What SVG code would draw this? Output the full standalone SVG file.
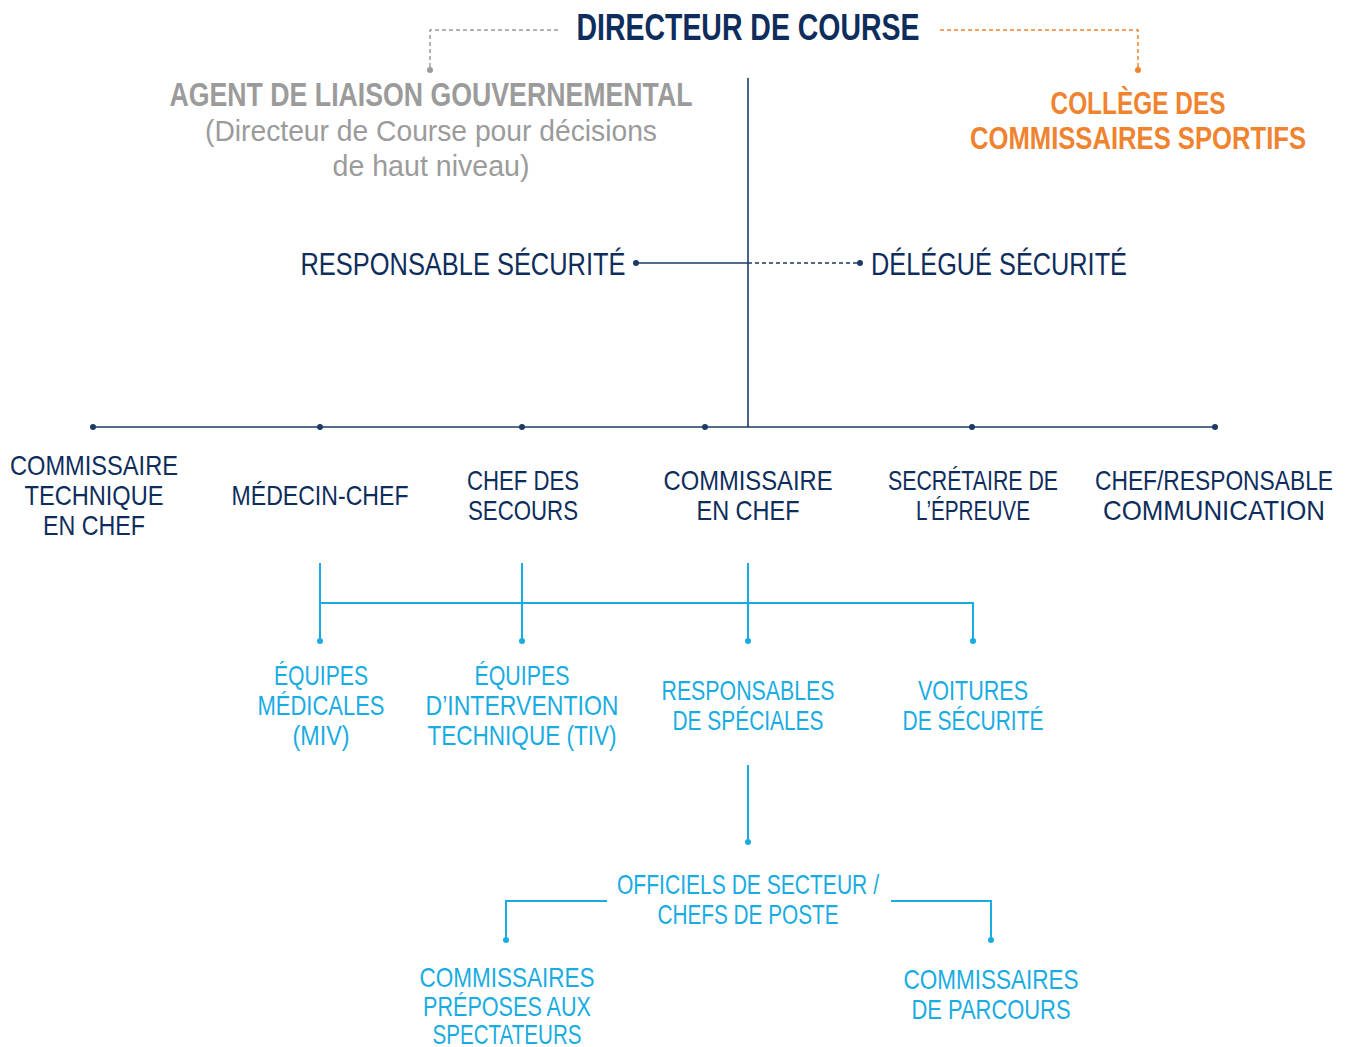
<svg xmlns="http://www.w3.org/2000/svg" width="1354" height="1047" viewBox="0 0 1354 1047">
<style>
text{font-family:"Liberation Sans",Arial,sans-serif;text-anchor:middle}
.t{fill:#0e2d5c;font-weight:bold;font-size:36px}
.g{fill:#9b9b9b;font-weight:bold;font-size:33px}
.gl{fill:#9b9b9b;font-size:30px}
.o{fill:#f0832f;font-weight:bold;font-size:31px}
.n{fill:#0e2d5c;font-size:32px}
.l{fill:#0e2d5c;font-size:28px}
.c{fill:#19ace2;font-size:28px}
.ln{stroke:#1c3a66;stroke-width:1.6;fill:none}
.lc{stroke:#19ace2;stroke-width:2;fill:none}
.dg{stroke:#9b9b9b;stroke-width:1.5;stroke-dasharray:4 3;fill:none}
.do{stroke:#f0832f;stroke-width:1.5;stroke-dasharray:4 3;fill:none}
.dn{stroke:#1c3a66;stroke-width:1.6;stroke-dasharray:4 3;fill:none}
</style>
<g id="connectors">
<path class="dg" d="M558,30 H430 V68"/>
<circle cx="430" cy="70" r="3" fill="#9b9b9b"/>
<path class="do" d="M940,30 H1138 V68"/>
<circle cx="1138" cy="70" r="3" fill="#f0832f"/>
<path class="ln" d="M748,78 V427"/>
<path class="ln" d="M636,263 H748"/>
<path class="dn" d="M748,263 H860"/>
<circle cx="636" cy="263" r="3" fill="#1c3a66"/>
<circle cx="860" cy="263" r="3" fill="#1c3a66"/>
<path class="ln" d="M93,427 H1215"/>
<g fill="#1c3a66">
<circle cx="93" cy="427" r="3"/><circle cx="320" cy="427" r="3"/><circle cx="522" cy="427" r="3"/><circle cx="705" cy="427" r="3"/><circle cx="972" cy="427" r="3"/><circle cx="1215" cy="427" r="3"/>
</g>
<path class="lc" d="M320,563 V640 M522,563 V640 M748,563 V640 M320,603 H973 V640 M748,765 V841 M607,901 H506 V939 M891,901 H991 V939"/>
<g fill="#19ace2">
<circle cx="320" cy="641" r="3"/><circle cx="522" cy="641" r="3"/><circle cx="748" cy="641" r="3"/><circle cx="973" cy="641" r="3"/><circle cx="748" cy="842" r="3"/><circle cx="506" cy="940" r="3"/><circle cx="991" cy="940" r="3"/>
</g>
</g>
<g id="directeur"><text class="t" x="748" y="40" textLength="343" lengthAdjust="spacingAndGlyphs">DIRECTEUR DE COURSE</text></g>
<g id="agent">
<text class="g" x="431" y="106" textLength="523" lengthAdjust="spacingAndGlyphs">AGENT DE LIAISON GOUVERNEMENTAL</text>
<text class="gl" x="431" y="141" textLength="452" lengthAdjust="spacingAndGlyphs">(Directeur de Course pour décisions</text>
<text class="gl" x="431" y="176" textLength="197" lengthAdjust="spacingAndGlyphs">de haut niveau)</text>
</g>
<g id="college">
<text class="o" x="1138" y="114" textLength="175" lengthAdjust="spacingAndGlyphs">COLLÈGE DES</text>
<text class="o" x="1138" y="149" textLength="336" lengthAdjust="spacingAndGlyphs">COMMISSAIRES SPORTIFS</text>
</g>
<g id="resp-securite"><text class="n" x="463" y="275" textLength="325" lengthAdjust="spacingAndGlyphs">RESPONSABLE SÉCURITÉ</text></g>
<g id="delegue-securite"><text class="n" x="999" y="275" textLength="256" lengthAdjust="spacingAndGlyphs">DÉLÉGUÉ SÉCURITÉ</text></g>
<g id="commissaire-technique">
<text class="l" x="94" y="475" textLength="168" lengthAdjust="spacingAndGlyphs">COMMISSAIRE</text>
<text class="l" x="94" y="505" textLength="139" lengthAdjust="spacingAndGlyphs">TECHNIQUE</text>
<text class="l" x="94" y="535" textLength="102" lengthAdjust="spacingAndGlyphs">EN CHEF</text>
</g>
<g id="medecin-chef"><text class="l" x="320" y="505" textLength="177" lengthAdjust="spacingAndGlyphs">MÉDECIN-CHEF</text></g>
<g id="chef-secours">
<text class="l" x="523" y="490" textLength="112" lengthAdjust="spacingAndGlyphs">CHEF DES</text>
<text class="l" x="523" y="520" textLength="110" lengthAdjust="spacingAndGlyphs">SECOURS</text>
</g>
<g id="commissaire-chef">
<text class="l" x="748" y="490" textLength="169" lengthAdjust="spacingAndGlyphs">COMMISSAIRE</text>
<text class="l" x="748" y="520" textLength="103" lengthAdjust="spacingAndGlyphs">EN CHEF</text>
</g>
<g id="secretaire">
<text class="l" x="973" y="490" textLength="170" lengthAdjust="spacingAndGlyphs">SECRÉTAIRE DE</text>
<text class="l" x="973" y="520" textLength="114" lengthAdjust="spacingAndGlyphs">L’ÉPREUVE</text>
</g>
<g id="communication">
<text class="l" x="1214" y="490" textLength="238" lengthAdjust="spacingAndGlyphs">CHEF/RESPONSABLE</text>
<text class="l" x="1214" y="520" textLength="222" lengthAdjust="spacingAndGlyphs">COMMUNICATION</text>
</g>
<g id="equipes-medicales">
<text class="c" x="321" y="685" textLength="94" lengthAdjust="spacingAndGlyphs">ÉQUIPES</text>
<text class="c" x="321" y="715" textLength="127" lengthAdjust="spacingAndGlyphs">MÉDICALES</text>
<text class="c" x="321" y="745" textLength="57" lengthAdjust="spacingAndGlyphs">(MIV)</text>
</g>
<g id="equipes-intervention">
<text class="c" x="522" y="685" textLength="95" lengthAdjust="spacingAndGlyphs">ÉQUIPES</text>
<text class="c" x="522" y="715" textLength="193" lengthAdjust="spacingAndGlyphs">D’INTERVENTION</text>
<text class="c" x="522" y="745" textLength="189" lengthAdjust="spacingAndGlyphs">TECHNIQUE (TIV)</text>
</g>
<g id="responsables-speciales">
<text class="c" x="748" y="700" textLength="173" lengthAdjust="spacingAndGlyphs">RESPONSABLES</text>
<text class="c" x="748" y="730" textLength="151" lengthAdjust="spacingAndGlyphs">DE SPÉCIALES</text>
</g>
<g id="voitures-securite">
<text class="c" x="973" y="700" textLength="110" lengthAdjust="spacingAndGlyphs">VOITURES</text>
<text class="c" x="973" y="730" textLength="141" lengthAdjust="spacingAndGlyphs">DE SÉCURITÉ</text>
</g>
<g id="officiels">
<text class="c" x="748" y="894" textLength="262" lengthAdjust="spacingAndGlyphs">OFFICIELS DE SECTEUR /</text>
<text class="c" x="748" y="924" textLength="181" lengthAdjust="spacingAndGlyphs">CHEFS DE POSTE</text>
</g>
<g id="commissaires-spectateurs">
<text class="c" x="507" y="987" textLength="175" lengthAdjust="spacingAndGlyphs">COMMISSAIRES</text>
<text class="c" x="507" y="1016" textLength="168" lengthAdjust="spacingAndGlyphs">PRÉPOSES AUX</text>
<text class="c" x="507" y="1044" textLength="149" lengthAdjust="spacingAndGlyphs">SPECTATEURS</text>
</g>
<g id="commissaires-parcours">
<text class="c" x="991" y="989" textLength="175" lengthAdjust="spacingAndGlyphs">COMMISSAIRES</text>
<text class="c" x="991" y="1019" textLength="159" lengthAdjust="spacingAndGlyphs">DE PARCOURS</text>
</g>
</svg>
